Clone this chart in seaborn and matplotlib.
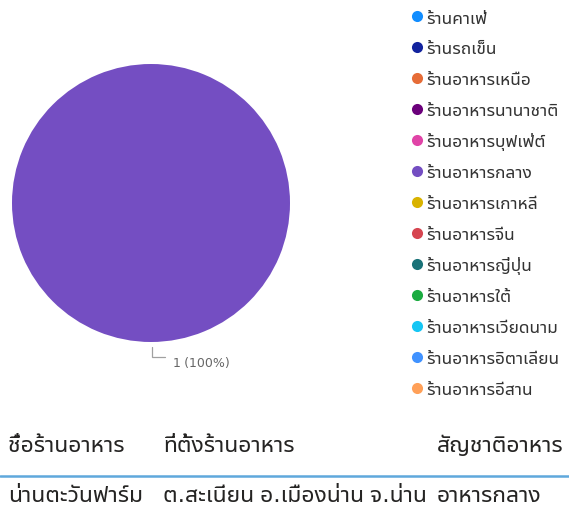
import numpy as np
import seaborn as sns
import matplotlib
matplotlib.use("Agg")
import matplotlib.pyplot as plt
from matplotlib.lines import Line2D

# categories (legend order) and counts
categories = ["ร้านคาเฟ่", "ร้านรถเข็น", "ร้านอาหารเหนือ", "ร้านอาหารนานาชาติ",
              "ร้านอาหารบุฟเฟ่ต์", "ร้านอาหารกลาง", "ร้านอาหารเกาหลี", "ร้านอาหารจีน",
              "ร้านอาหารญี่ปุ่น", "ร้านอาหารใต้", "ร้านอาหารเวียดนาม",
              "ร้านอาหารอิตาเลียน", "ร้านอาหารอีสาน"]
counts = [0, 0, 0, 0, 0, 1, 0, 0, 0, 0, 0, 0, 0]
colors = ["#118DFF", "#12239E", "#E66C37", "#6B007B", "#E044A7", "#744EC2", "#D9B300",
          "#D64550", "#197278", "#1AAB40", "#15C6F4", "#4092FF", "#FFA058"]

# table below the chart
table_header = ["ชื่อร้านอาหาร", "ที่ตั้งร้านอาหาร", "สัญชาติอาหาร"]
table_row = ["น่านตะวันฟาร์ม", "ต.สะเนียน อ.เมืองน่าน จ.น่าน", "อาหารกลาง"]

sns.set_theme(style="white")
plt.rcParams["font.family"] = ["Noto Sans Thai UI", "DejaVu Sans"]
palette = sns.color_palette(colors)

W, H = 569, 506
fig = plt.figure(figsize=(W / 100, H / 100), dpi=100)

# pie axes: centre (151, 204) px, radius 139 px
cx, cy, R = 151, 204, 139
ax = fig.add_axes([(cx - R) / W, 1 - (cy + R) / H, 2 * R / W, 2 * R / H])
wedges, _ = ax.pie(counts, colors=palette, startangle=90, counterclock=False,
                   wedgeprops=dict(linewidth=0))
ax.set_xlim(-1, 1)
ax.set_ylim(-1, 1)
ax.axis("off")

# data label with a leader line
total = sum(counts)
for w, n in zip(wedges, counts):
    if n == 0:
        continue
    mid = np.deg2rad((w.theta1 + w.theta2) / 2)
    px, py = 1.035 * np.cos(mid) + 0.007, 1.035 * np.sin(mid)
    ax.plot([px, px, px + 0.095], [py, py - 0.072, py - 0.072], color="#a0a0a0",
            lw=0.9, clip_on=False, solid_joinstyle="miter")
    ax.text(px + 0.152, py - 0.112, f"{n} ({n / total:.0%})", ha="left", va="center",
            fontsize=9, color="#666666", clip_on=False)

handles = [Line2D([], [], marker="o", linestyle="", markersize=8,
                  markerfacecolor=c, markeredgewidth=0) for c in palette]
fig.legend(handles, categories, loc="upper left", bbox_to_anchor=(412 / W, 1 - 9.5 / H),
           frameon=False, handlelength=0.6, handletextpad=0.2, borderpad=0,
           borderaxespad=0, labelspacing=0.745, fontsize=12.5, labelcolor="#333333")

# table
col_x = [8, 163, 437]
for x, h, v in zip(col_x, table_header, table_row):
    fig.text(x / W, 1 - 446 / H, h, fontsize=16.5, color="#252423",
             weight="semibold", va="center", ha="left")
    fig.text(x / W, 1 - 496 / H, v, fontsize=16.5, color="#252423",
             va="center", ha="left")
fig.add_artist(Line2D([0, 1], [1 - 477 / H, 1 - 477 / H], transform=fig.transFigure,
                      color="#5FA8DC", lw=1.8))

fig.savefig("out.png", dpi=100)
